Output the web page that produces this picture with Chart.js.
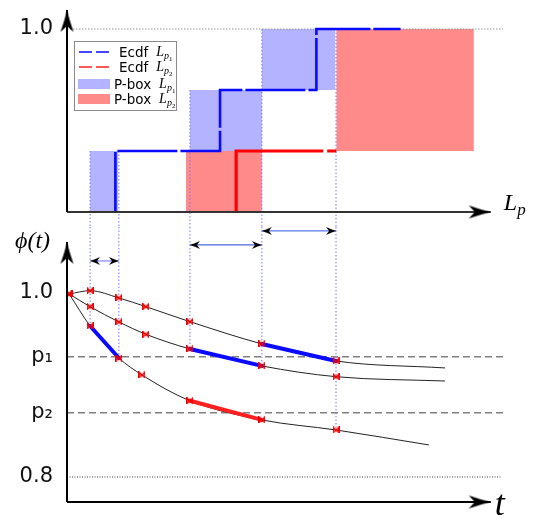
<!DOCTYPE html>
<html>
<head>
<meta charset="utf-8">
<script src="https://cdn.jsdelivr.net/npm/chart.js@4.4.0/dist/chart.umd.min.js"></script>
<style>
html, body { margin: 0; padding: 0; background: #fff; }
</style>
</head>
<body>
<canvas id="pboxChart" width="533" height="519"></canvas>
<script>
//********** DATA ***********

// top panel : x = Lp (0..100), y = cumulative probability
var ecdf1X = [11.1, 11.1, 35.1, 35.1, 57.2, 57.2, 76.5];
var ecdf1Y = [0, 1/3, 1/3, 2/3, 2/3, 1, 1];
var ecdf2X = [38.8, 38.8, 61.8];
var ecdf2Y = [0, 1/3, 1/3];

var pbox1Left = [5.3, 28.2, 44.7];
var pbox1Right = [11.7, 44.7, 61.5];
var pbox1Low = [0, 1/3, 2/3];
var pbox1High = [1/3, 2/3, 1];
var pbox2Left = [27.3, 61.8];
var pbox2Right = [44.7, 93.3];
var pbox2Low = [0, 1/3];
var pbox2High = [1/3, 1];

// bottom panel : x = t, y = phi(t)
var tAB = [0.5, 5.3, 11.9, 18.1, 28.2, 44.7, 61.7, 86.7];
var tC = [0.5, 5.3, 11.9, 17.2, 28.2, 44.7, 61.7, 83.0];
var curveA = [0.9989, 1.0025, 0.9946, 0.9851, 0.9688, 0.9446, 0.9261, 0.9185];
var curveB = [0.9989, 0.9851, 0.9685, 0.9551, 0.9391, 0.9207, 0.9090, 0.9043];
var curveC = [0.9989, 0.9641, 0.9293, 0.9109, 0.8829, 0.8620, 0.8511, 0.8348];

var p1 = 0.9308;
var p2 = 0.8699;
var botTicks = [1, p1, p2, 0.8];
var botTickLabels = ['1.0', 'p\u2081', 'p\u2082', '0.8'];
var topTicks = [1];
var topTickLabels = ['1.0'];

// highlighted pieces : [curve, from index, to index, colour]
var highlights = [['C', 1, 2, '#0a0aff'], ['B', 4, 5, '#0a0aff'], ['A', 5, 6, '#0a0aff'], ['C', 4, 5, '#ff2020']];

// dotted guides between the two panels
var guideX = [5.3, 11.9, 28.2, 44.7, 61.7];
var guideTop = [1/3, 1/3, 2/3, 1, 1];
var guideCurve = [['C', 1], ['C', 2], ['B', 4], ['B', 5], ['C', 6]];

// double arrows : [left guide, right guide, phi level, colour]
var spans = [[0, 1, 1.0348, '#8f8fff'], [2, 3, 1.0522, '#4a66dd'], [3, 4, 1.0674, '#5a78e6']];

var xRange = [0, 100];
var xTip = 97.2;
var topRange = [-0.082, 1.104];
var botRange = [0.7728, 1.0717];
var botTip = 1.0554;

var legendNames = ['Ecdf', 'Ecdf', 'P-box', 'P-box'];
var legendSubs = ['1', '2', '1', '2'];

//********** MARKERS ***********

function makeHead(len, wid, notch) {
    var c = document.createElement('canvas');
    c.width = len * 2 + 2;
    c.height = wid + 2;
    var g = c.getContext('2d');
    var cx = len + 1, cy = (wid + 2) / 2;
    g.fillStyle = '#000';
    g.beginPath();
    g.moveTo(cx, cy);
    g.quadraticCurveTo(cx - len * 0.5, cy - wid * 0.2, cx - len, cy - wid / 2);
    g.lineTo(cx - len + notch, cy);
    g.lineTo(cx - len, cy + wid / 2);
    g.quadraticCurveTo(cx - len * 0.5, cy + wid * 0.2, cx, cy);
    g.closePath();
    g.fill();
    return c;
}

function makeBowtie(s) {
    var c = document.createElement('canvas');
    c.width = s;
    c.height = s;
    var g = c.getContext('2d');
    g.strokeStyle = '#ee0000';
    g.fillStyle = 'rgba(255,0,0,0.45)';
    g.lineWidth = 1.2;
    g.beginPath();
    g.moveTo(0.6, 0.6);
    g.lineTo(s - 0.6, s - 0.6);
    g.lineTo(s - 0.6, 0.6);
    g.lineTo(0.6, s - 0.6);
    g.closePath();
    g.fill();
    g.stroke();
    return c;
}

var bigHead = makeHead(22, 13, 6);
var smallHead = makeHead(10, 8, 3);
var bowtie = makeBowtie(7);

//********** DATASETS ***********

function pts(xs, ys) {
    return xs.map(function(x, i) { return {x: x, y: ys[i]}; });
}

var curves = {A: pts(tAB, curveA), B: pts(tAB, curveB), C: pts(tC, curveC)};
var datasets = [];

function addBoxes(left, right, low, high, colour) {
    for (var i = 0; i < left.length; i++) {
        datasets.push({
            yAxisID: 'yTop',
            data: pts([left[i], right[i], right[i], left[i]], [low[i], low[i], high[i], high[i]]),
            fill: 'shape',
            backgroundColor: colour,
            borderColor: 'rgba(0,0,0,0)',
            borderWidth: 1,
            pointRadius: 0,
            order: 10
        });
    }
}
addBoxes(pbox1Left, pbox1Right, pbox1Low, pbox1High, '#b3b3ff');
addBoxes(pbox2Left, pbox2Right, pbox2Low, pbox2High, '#ff8a8a');

// guides
for (var g = 0; g < guideX.length; g++) {
    var gc = guideCurve[g];
    datasets.push({
        yAxisID: 'yTop',
        data: pts([guideX[g], guideX[g]], [guideTop[g], topRange[0]]),
        borderColor: '#7575ff', borderWidth: 1, borderDash: [1.5, 2],
        pointRadius: 0, order: 8, clip: false
    });
    datasets.push({
        yAxisID: 'yBot',
        data: pts([guideX[g], guideX[g]], [botRange[1], curves[gc[0]][gc[1]].y]),
        borderColor: '#7575ff', borderWidth: 1, borderDash: [1.5, 2],
        pointRadius: 0, order: 8
    });
}

// reference lines
datasets.push({yAxisID: 'yTop', data: pts([0, 100], [1, 1]), borderColor: '#999', borderWidth: 1, borderDash: [1.5, 1.5], pointRadius: 0, order: 9});
datasets.push({yAxisID: 'yBot', data: pts([0, 100], [p1, p1]), borderColor: '#808080', borderWidth: 1.5, borderDash: [7, 4], pointRadius: 0, order: 9});
datasets.push({yAxisID: 'yBot', data: pts([0, 100], [p2, p2]), borderColor: '#808080', borderWidth: 1.5, borderDash: [7, 4], pointRadius: 0, order: 9});
datasets.push({yAxisID: 'yBot', data: pts([0, 99.4], [0.8, 0.8]), borderColor: '#444', borderWidth: 1, borderDash: [1, 1.5], pointRadius: 0, order: 9});

// ecdf steps
datasets.push({yAxisID: 'yTop', data: pts(ecdf1X, ecdf1Y), borderColor: '#0a0aff', borderWidth: 2.6, borderDash: [60, 3], pointRadius: 0, order: 2});
datasets.push({yAxisID: 'yTop', data: pts(ecdf2X, ecdf2Y), borderColor: '#ff0000', borderWidth: 3.2, borderDash: [148, 4], pointRadius: 0, order: 2});

// phi curves, thick pieces, then markers on top
['A', 'B', 'C'].forEach(function(k) {
    datasets.push({
        yAxisID: 'yBot', data: curves[k], borderColor: '#222', borderWidth: 1,
        cubicInterpolationMode: 'monotone', pointRadius: 0, order: 6
    });
    datasets.push({
        yAxisID: 'yBot', data: curves[k].slice(0, -1), showLine: false,
        pointStyle: bowtie, pointRadius: 3, order: 1
    });
});
highlights.forEach(function(h) {
    var c = curves[h[0]];
    datasets.push({
        yAxisID: 'yBot', data: [c[h[1]], c[h[2]]], borderColor: h[3], borderWidth: 4,
        borderCapStyle: 'round', pointRadius: 0, order: 4
    });
});

// double arrows
spans.forEach(function(s) {
    datasets.push({
        yAxisID: 'yBot', data: pts([guideX[s[0]], guideX[s[1]]], [s[2], s[2]]),
        borderColor: s[3], borderWidth: 1.3,
        pointStyle: smallHead, pointRadius: 4, pointRotation: [180, 0], order: 0, clip: false
    });
});

// axes with arrow heads
function axis(yId, xs, ys, rot, colour) {
    datasets.push({
        yAxisID: yId, data: pts(xs, ys), borderColor: colour, borderWidth: 2,
        pointStyle: bigHead, pointRadius: [0, 6], pointRotation: [0, rot], order: 0, clip: false
    });
}
axis('yTop', [0, 0], [0, topRange[1]], -90, '#000');
axis('yTop', [0, xTip], [0, 0], 0, '#333');
axis('yBot', [0, 0], [botRange[0], botTip], -90, '#000');
axis('yBot', [0, xTip], [botRange[0], botRange[0]], 0, '#000');

//********** LEGEND AND AXIS NAMES ***********

function mathText(ctx, x, y, base, sub, subsub, size) {
    ctx.font = 'italic ' + size + 'px "Liberation Serif"';
    ctx.fillText(base, x, y);
    var w = ctx.measureText(base).width;
    ctx.font = 'italic ' + Math.round(size * 0.7) + 'px "Liberation Serif"';
    ctx.fillText(sub, x + w, y + size * 0.2);
    if (subsub) {
        var w2 = ctx.measureText(sub).width;
        ctx.font = Math.round(size * 0.5) + 'px "Liberation Serif"';
        ctx.fillText(subsub, x + w + w2, y + size * 0.38);
    }
}

var decorPlugin = {
    id: 'decor',
    afterDraw: function(chart) {
        var ctx = chart.ctx, a = chart.chartArea;
        var sx = chart.scales.x, sTop = chart.scales.yTop, sBot = chart.scales.yBot;
        ctx.save();
        ctx.textBaseline = 'alphabetic';
        ctx.fillStyle = '#000';

        // legend
        var lx = a.left + 7, ly = a.top + 31;
        ctx.fillStyle = 'rgba(255,255,255,0.9)';
        ctx.fillRect(lx, ly, 102, 69);
        ctx.strokeStyle = '#8a8a8a';
        ctx.lineWidth = 1;
        ctx.strokeRect(lx + 0.5, ly + 0.5, 102, 69);
        var rows = [11, 26, 43, 58];
        var colours = ['#0a0aff', '#ff2020', '#b3b3ff', '#ff8a8a'];
        for (var i = 0; i < 4; i++) {
            var ry = ly + rows[i];
            if (i < 2) {
                ctx.strokeStyle = colours[i];
                ctx.lineWidth = 1.5;
                ctx.setLineDash([13, 4]);
                ctx.beginPath();
                ctx.moveTo(lx + 5, ry);
                ctx.lineTo(lx + 36, ry);
                ctx.stroke();
                ctx.setLineDash([]);
            } else {
                ctx.fillStyle = colours[i];
                ctx.fillRect(lx + 4, ry - 5, 32, 10);
            }
            ctx.fillStyle = '#000';
            ctx.font = '13.5px "DejaVu Sans"';
            var tx = lx + (i < 2 ? 45 : 40);
            ctx.fillText(legendNames[i], tx, ry + 5);
            var tw = ctx.measureText(legendNames[i]).width;
            mathText(ctx, tx + tw + 8, ry + 4, 'L', 'p', legendSubs[i], 14);
        }

        // axis names
        ctx.fillStyle = '#000';
        mathText(ctx, sx.getPixelForValue(xTip) + 13, sTop.getPixelForValue(0) - 2, 'L', 'p', '', 24);
        ctx.font = 'italic 24px "Liberation Serif"';
        ctx.fillText('\u03d5(t)', 15, sBot.getPixelForValue(botTip) + 6);
        ctx.font = 'italic 36px "Liberation Serif"';
        ctx.fillText('t', sx.getPixelForValue(xTip) + 4, sBot.getPixelForValue(botRange[0]) + 13);
        ctx.restore();
    }
};

//********** CHART ***********

function tickAxis(range, weight, values, labels) {
    return {
        type: 'linear', position: 'left', stack: 'panels', stackWeight: weight,
        min: range[0], max: range[1],
        grid: {display: false, drawTicks: false},
        border: {display: false},
        afterBuildTicks: function(s) {
            s.ticks = values.map(function(v) { return {value: v}; });
        },
        afterFit: function(s) {
            s.width = 67;
            s.paddingTop = 0;
            s.paddingBottom = 0;
        },
        ticks: {
            autoSkip: false, padding: 14, color: '#111',
            font: {family: 'DejaVu Sans', size: 21},
            callback: function(v) {
                var i = values.indexOf(v);
                return i < 0 ? '' : labels[i];
            }
        }
    };
}

var ctx = document.getElementById('pboxChart').getContext('2d');
var chart = new Chart(ctx, {
    type: 'line',
    data: {datasets: datasets},
    options: {
        responsive: false,
        animation: false,
        events: [],
        layout: {padding: {left: 0, right: 30, top: 10, bottom: 17}},
        plugins: {legend: {display: false}, tooltip: {enabled: false}},
        scales: {
            x: {type: 'linear', min: xRange[0], max: xRange[1], display: false},
            yBot: tickAxis(botRange, 275, botTicks, botTickLabels),
            yTop: tickAxis(topRange, 217, topTicks, topTickLabels)
        }
    },
    plugins: [decorPlugin]
});
</script>
</body>
</html>
